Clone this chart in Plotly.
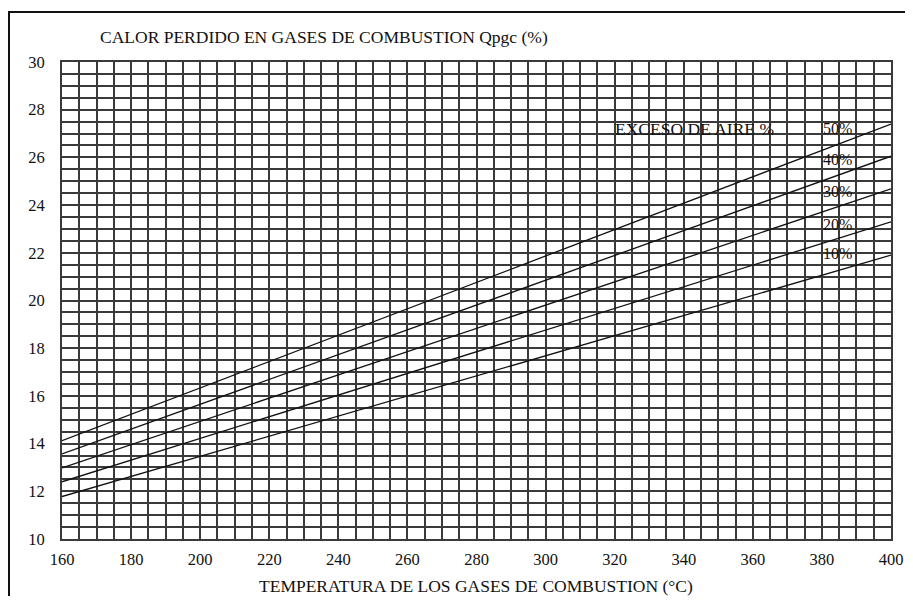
import plotly.graph_objects as go

temps = [160, 400]
exceso = ["10%", "20%", "30%", "40%", "50%"]
calor = {
    "10%": [11.78, 21.9],
    "20%": [12.4, 23.3],
    "30%": [12.98, 24.68],
    "40%": [13.57, 26.05],
    "50%": [14.12, 27.4],
}
label_y = {"10%": 21.95, "20%": 23.2, "30%": 24.55, "40%": 25.9, "50%": 27.2}
x_ticks = list(range(160, 401, 20))
y_ticks = list(range(10, 31, 2))

FONT = "Liberation Serif"
INK = "#111111"

# page-pixel geometry of the plot area (page body has an 8px margin)
PL, PR, PT, PB = 62, 891, 62, 539
PW, PH = PR - PL, PB - PT


def px(x):
    return (x - PL) / PW


def py(y):
    return (PB - y) / PH


fig = go.Figure()
for k in exceso:
    fig.add_trace(go.Scatter(x=temps, y=calor[k], mode="lines",
                             line=dict(color="#111111", width=1.3),
                             showlegend=False, hoverinfo="skip"))

for k in exceso:
    fig.add_annotation(x=379.7, y=label_y[k], text=k, showarrow=False,
                       xanchor="left", yanchor="middle",
                       font=dict(family=FONT, size=16, color=INK))
fig.add_annotation(x=319.5, y=label_y["50%"], text="EXCESO DE AIRE %", showarrow=False,
                   xanchor="left", yanchor="middle",
                   font=dict(family=FONT, size=17.5, color=INK))

fig.add_annotation(xref="paper", yref="paper", x=px(98), y=py(37),
                   text="CALOR PERDIDO EN GASES DE COMBUSTION Qpgc (%)", showarrow=False,
                   xanchor="left", yanchor="middle",
                   font=dict(family=FONT, size=17.5, color=INK))
fig.add_annotation(xref="paper", yref="paper", x=px(476), y=py(586),
                   text="TEMPERATURA DE LOS GASES DE COMBUSTION (°C)", showarrow=False,
                   xanchor="center", yanchor="middle",
                   font=dict(family=FONT, size=17.5, color=INK))

# page border (top and left visible)
fig.add_shape(type="rect", xref="paper", yref="paper",
              x0=px(9), x1=px(980), y0=py(700), y1=py(12),
              line=dict(color="#111111", width=2), layer="above")

grid = "#3a3a3a"
fig.update_xaxes(range=[160, 400], tickvals=x_ticks, ticks="", showgrid=True,
                 gridcolor=grid, gridwidth=1.7, automargin=False,
                 minor=dict(dtick=5, tick0=160, showgrid=True, gridcolor=grid, gridwidth=1.7),
                 showline=True, linecolor=grid, linewidth=1.7, mirror=True,
                 zeroline=False, ticklabelstandoff=4,
                 tickfont=dict(family=FONT, size=16.5, color=INK))
fig.update_yaxes(range=[10, 30], tickvals=y_ticks, ticks="", showgrid=True,
                 gridcolor=grid, gridwidth=1.7, automargin=False,
                 minor=dict(dtick=0.5, tick0=10, showgrid=True, gridcolor=grid, gridwidth=1.7),
                 showline=True, linecolor=grid, linewidth=1.7, mirror=True,
                 zeroline=False, ticklabelstandoff=12,
                 tickfont=dict(family=FONT, size=16.5, color=INK))

fig.update_layout(width=897, height=588,
                  margin=dict(l=PL - 8, r=897 - (PR - 8), t=PT - 8, b=588 - (PB - 8)),
                  plot_bgcolor="white", paper_bgcolor="white", showlegend=False)

fig.write_html("out.html")
